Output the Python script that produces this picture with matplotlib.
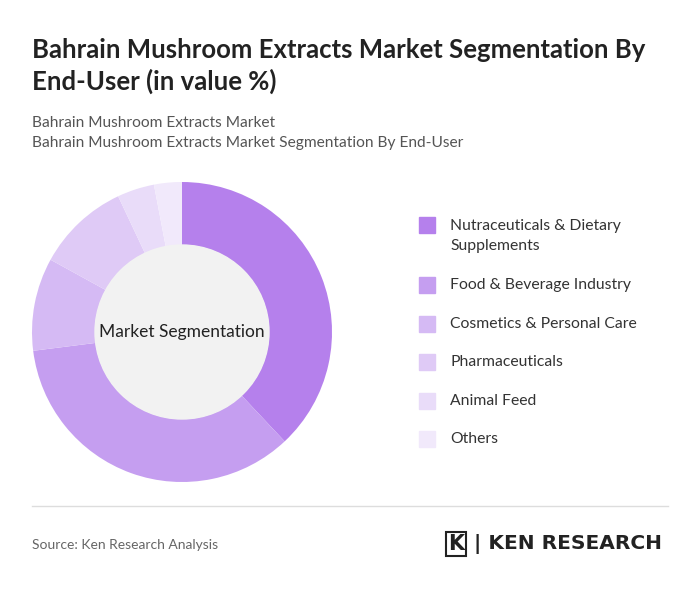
import matplotlib
matplotlib.use("Agg")
import matplotlib.pyplot as plt
from matplotlib.patches import Rectangle

categories = ["Nutraceuticals & Dietary\nSupplements", "Food & Beverage Industry",
              "Cosmetics & Personal Care", "Pharmaceuticals", "Animal Feed", "Others"]
values = [38, 35, 10, 10, 4, 3]
colors = ["#B580EC", "#C59EF0", "#D5BAF4", "#DFCAF6", "#E9DCF9", "#F1E9FB"]

W, H = 700, 591
fig = plt.figure(figsize=(7, 5.91), dpi=100)
fig.patch.set_facecolor("white")

def fx(x): return x / W
def fy(y): return 1 - y / H

fig.text(fx(32), fy(50), "Bahrain Mushroom Extracts Market Segmentation By", fontsize=18.5,
         fontweight="bold", color="#222222", va="center", family="Lato")
fig.text(fx(32), fy(81), "End-User (in value %)", fontsize=18.5,
         fontweight="bold", color="#222222", va="center", family="Lato")
fig.text(fx(32), fy(123), "Bahrain Mushroom Extracts Market", fontsize=11.2, color="#555555", va="center", family="Lato")
fig.text(fx(32), fy(143), "Bahrain Mushroom Extracts Market Segmentation By End-User", fontsize=11.2,
         color="#555555", va="center", family="Lato")

ax = fig.add_axes([fx(32), fy(482), 300 / W, 300 / H])
ax.pie(values, colors=colors, startangle=90, counterclock=False,
       wedgeprops=dict(width=0.42, edgecolor="white", linewidth=0))
ax.add_patch(plt.Circle((0, 0), 0.58, color="#F2F2F2", zorder=3))
ax.text(0, 0, "Market Segmentation", ha="center", va="center", fontsize=12.5, color="#222222",
        zorder=4, family="Lato")
ax.set_xlim(-1, 1); ax.set_ylim(-1, 1); ax.set_aspect("equal"); ax.axis("off")

ys = [236, 285, 324, 362, 401, 439]
for c, lab, y in zip(colors, categories, ys):
    sq = 225 if "\n" in lab else y
    fig.patches.append(Rectangle((fx(419), fy(sq) - 8 / H), 16 / W, 16 / H,
                                 transform=fig.transFigure, color=c))
    fig.text(fx(450), fy(y), lab, fontsize=11.3, color="#333333", va="center", family="Lato",
             linespacing=1.6)

fig.add_artist(plt.Line2D([fx(32), fx(668)], [fy(506), fy(506)], color="#DDDDDD", lw=1))
fig.text(fx(32), fy(545), "Source: Ken Research Analysis", fontsize=10, color="#666666", va="center", family="Lato")
fig.text(fx(448), fy(544), "K", fontsize=15, fontweight="bold", color="#222222", va="center",
         bbox=dict(boxstyle="square,pad=0.1", fc="white", ec="#222222", lw=1.5))
fig.text(fx(474), fy(544), "| KEN RESEARCH", fontsize=14.5, fontweight="bold", color="#222222", va="center",
         family="DejaVu Sans")

fig.savefig("out.png", dpi=100)
